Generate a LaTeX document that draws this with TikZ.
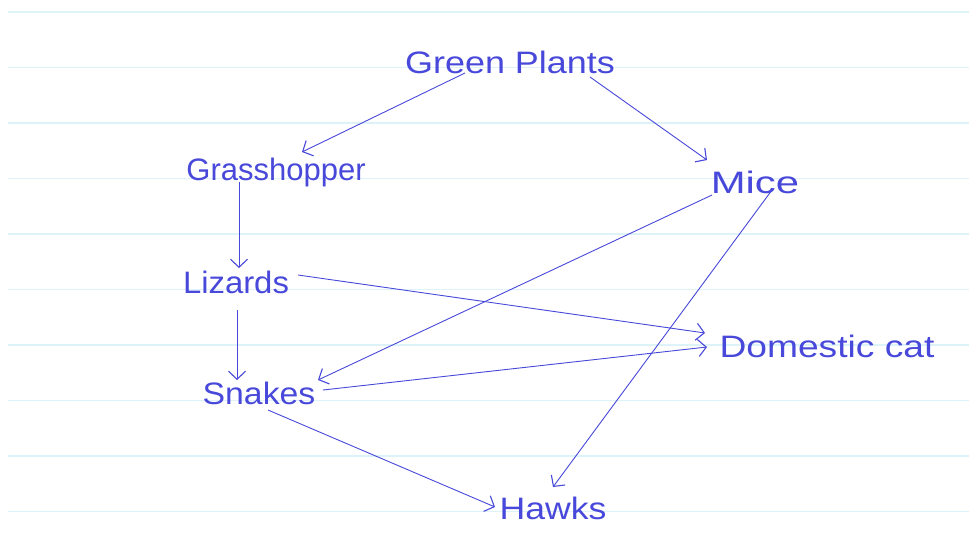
\documentclass[tikz,border=0pt]{standalone}
\usepackage{fontspec}
\setmainfont{Liberation Sans}
\usetikzlibrary{arrows.meta}
\definecolor{ink}{RGB}{72,72,218}
\definecolor{rule}{RGB}{222,242,250}
\tikzset{
  lbl/.style={text=ink, inner sep=0pt, font=\fontsize{31}{36}\selectfont},
  feeds/.style={draw=ink, line width=0.9pt, -{Straight Barb[length=8pt,width=17pt,line width=1.1pt]}},
  paper/.style={draw=rule, line width=1.6pt}
}
\begin{document}
\begin{tikzpicture}[x=1pt,y=-1pt]
\useasboundingbox (0,0) rectangle (969,533);
\fill[white] (0,0) rectangle (969,533);
% ruled paper
\foreach \k in {0,...,9} {\draw[paper] (8,12+55.5*\k) -- (969,12+55.5*\k);}
% organisms
\node[lbl] (gp) at (510,62) {\scalebox{1.16}[1]{Green Plants}};
\node[lbl] (gh) at (276,172) {Grasshopper};
\node[lbl] (mi) at (755,182) {\scalebox{1.35}[1]{Mice}};
\node[lbl] (li) at (236,282) {\scalebox{1.06}[1]{Lizards}};
\node[lbl] (dc) at (827,346) {\scalebox{1.2}[1]{Domestic cat}};
\node[lbl] (sn) at (259,393) {\scalebox{1.09}[1]{Snakes}};
\node[lbl] (hw) at (553,508) {\scalebox{1.15}[1]{Hawks}};
% feeding links
\draw[feeds] ([shift={(-45,11)}]gp.center) -- ([shift={(26,-20)}]gh.center);
\draw[feeds] ([shift={(80,15)}]gp.center) -- ([shift={(-48,-22)}]mi.center);
\draw[feeds] ([shift={(-37,10)}]gh.center) -- ([shift={(3,-14)}]li.center);
\draw[feeds] ([shift={(1,28)}]li.center) -- ([shift={(-22,-13)}]sn.center);
\draw[feeds] ([shift={(62,-7)}]li.center) -- ([shift={(-122,-13)}]dc.center);
\draw[feeds] ([shift={(-43,13)}]mi.center) -- ([shift={(59,-13)}]sn.center);
\draw[feeds] ([shift={(17,8)}]mi.center) -- ([shift={(0,-21)}]hw.center);
\draw[feeds] ([shift={(64,-3)}]sn.center) -- ([shift={(-120,1)}]dc.center);
\draw[feeds] ([shift={(9,17)}]sn.center) -- ([shift={(-58,-1)}]hw.center);
\end{tikzpicture}
\end{document}
